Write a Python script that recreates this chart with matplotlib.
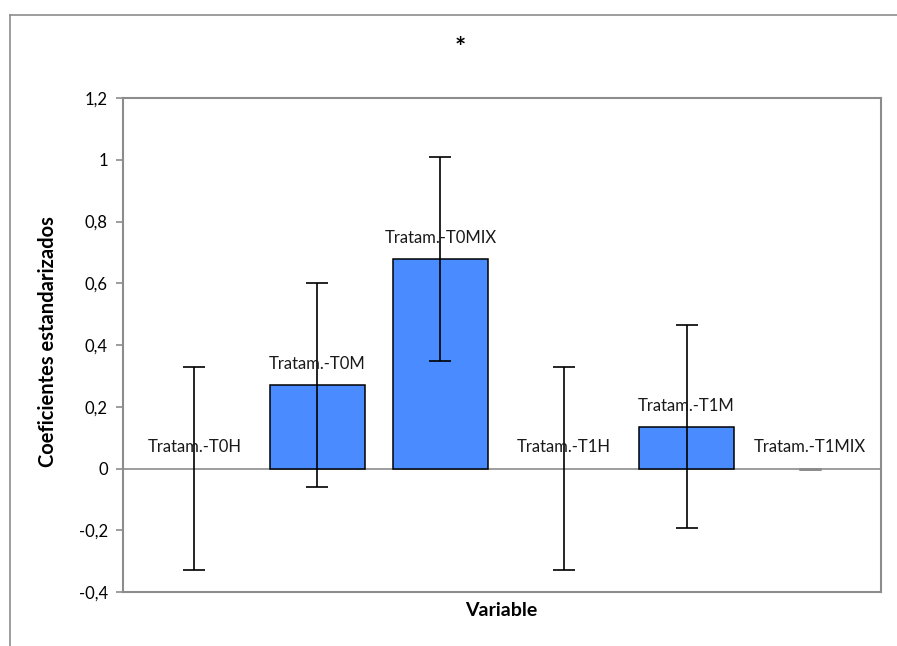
import numpy as np
import matplotlib
matplotlib.use("Agg")
import matplotlib.pyplot as plt
from matplotlib.lines import Line2D
from matplotlib.ticker import FuncFormatter

categories = ["Tratam.-T0H", "Tratam.-T0M", "Tratam.-T0MIX",
              "Tratam.-T1H", "Tratam.-T1M", "Tratam.-T1MIX"]
coefs = [0.0, 0.271, 0.679, 0.0, 0.136, 0.0]
errs = [0.330, 0.330, 0.330, 0.330, 0.330, 0.0]
yticks = [-0.4, -0.2, 0.0, 0.2, 0.4, 0.6, 0.8, 1.0, 1.2]

plt.rcParams["font.family"] = ["Lato", "DejaVu Sans"]
GRAY = "#8c8c8c"

fig = plt.figure(figsize=(8.97, 6.46), dpi=100)
ax = fig.add_axes([123/897, 1 - 592/646, (881-123)/897, (592-98)/646])

x = np.arange(len(categories))
c = np.array(coefs); e = np.array(errs)
nz = c != 0
ax.bar(x[nz], c[nz], width=0.77, color="#4a8cff", edgecolor="black", linewidth=1.1, zorder=2)
ax.axhline(0, color=GRAY, lw=1.2, zorder=1)
ok = e > 0
ax.errorbar(x[ok], c[ok], yerr=e[ok], fmt="none", ecolor="black", elinewidth=1.2,
            capsize=8, capthick=1.2, zorder=3)
ax.errorbar(x[~ok], c[~ok], yerr=e[~ok], fmt="none", ecolor=GRAY, elinewidth=1.2,
            capsize=8, capthick=2, zorder=3)

for xi, v, lab in zip(x, coefs, categories):
    ax.annotate(lab, (xi, v), xytext=(0, 21), textcoords="offset pixels",
                ha="center", va="center", fontsize=12, color="#1a1a1a")

ax.set_xlim(-0.58, 5.58)
ax.set_ylim(-0.4, 1.2)
ax.set_yticks(yticks)
ax.yaxis.set_major_formatter(FuncFormatter(
    lambda v, p: ("%g" % round(v, 2)).replace(".", ",") if abs(v) > 1e-9 else "0"))
ax.set_xticks([])
for s in ax.spines.values():
    s.set_color(GRAY)
    s.set_linewidth(1.5)
ax.tick_params(axis="y", direction="out", length=5, width=1.2, color=GRAY,
               labelsize=12, pad=6, labelcolor="black")

fig.text(48/897, 1 - 342/646, "Coeficientes estandarizados", rotation=90,
         ha="center", va="center", fontsize=14.5, fontweight="bold")
fig.text(501/897, 1 - 610/646, "Variable", ha="center", va="center",
         fontsize=14, fontweight="bold")
fig.text(460/897, 1 - 48/646, "*", ha="center", va="center",
         fontsize=19, fontweight="bold")

# outer chart frame (left and top edges)
fig.add_artist(Line2D([9.5/897, 9.5/897], [0, 1 - 15/646], color=GRAY, lw=1.2,
                      transform=fig.transFigure))
fig.add_artist(Line2D([9.5/897, 1], [1 - 15/646, 1 - 15/646], color=GRAY, lw=1.2,
                      transform=fig.transFigure))

fig.savefig("out.png", dpi=100)
